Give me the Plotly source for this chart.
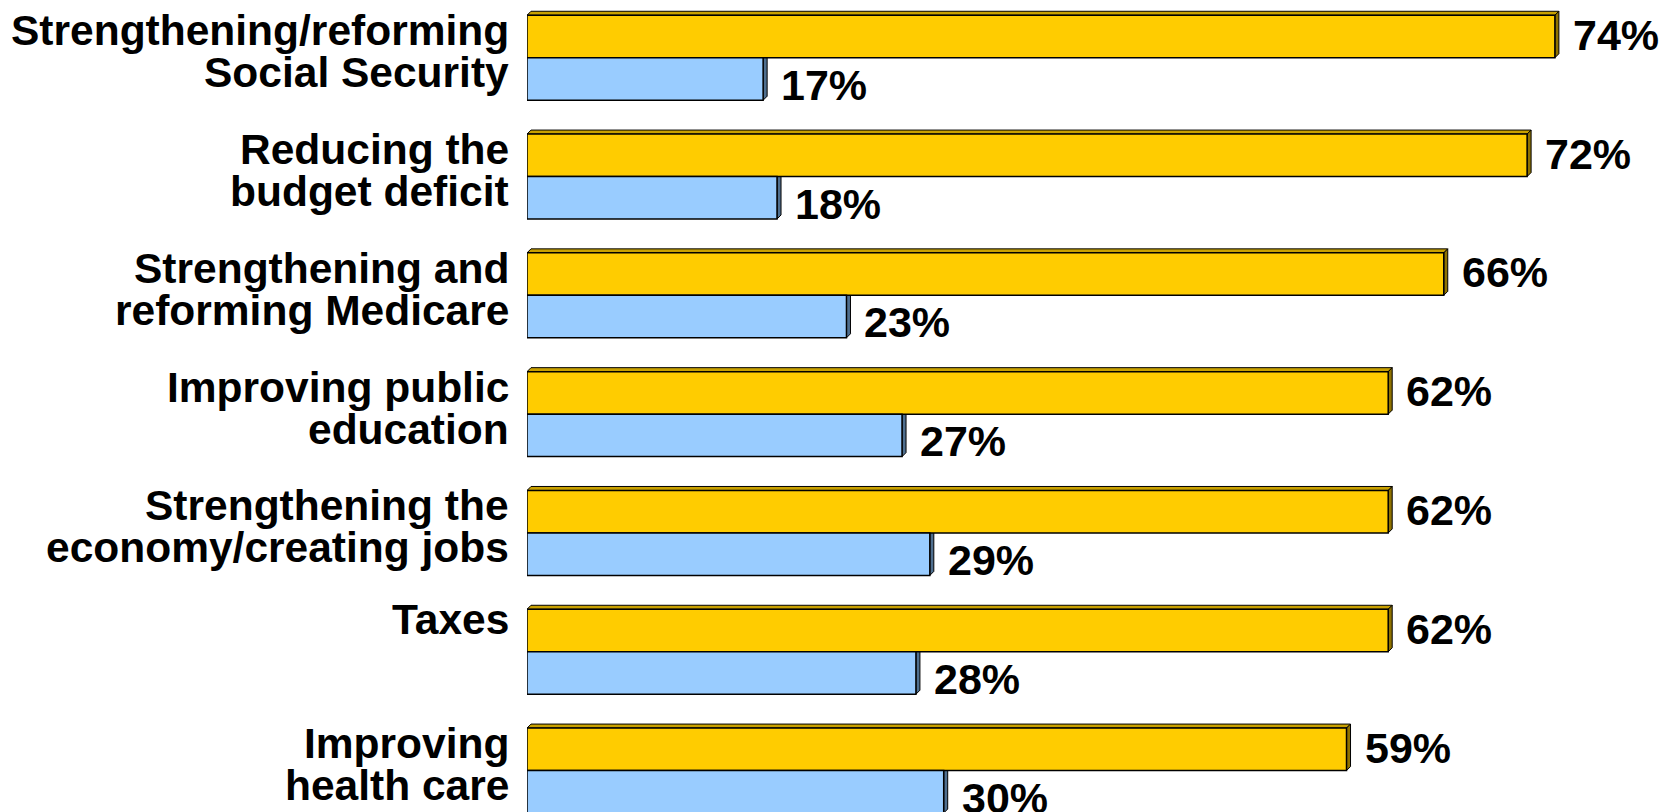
import plotly.graph_objects as go

# Survey items, top to bottom, each split into two lines of text
label_line1 = [
    "Strengthening/reforming",
    "Reducing the",
    "Strengthening and",
    "Improving public",
    "Strengthening the",
    "Taxes",
    "Improving",
]
label_line2 = [
    "Social Security",
    "budget deficit",
    "reforming Medicare",
    "education",
    "economy/creating jobs",
    "",
    "health care",
]
first_values = [74, 72, 66, 62, 62, 62, 59]    # gold bars
second_values = [17, 18, 23, 27, 29, 28, 30]   # light blue bars

# ---- layout constants ----
W, H = 1661, 812
LEFT = 527
X_MAX = 81.64
Y_RANGE = [6.349, -0.486]          # reversed: first item at the top
BAR_W = 0.3575                     # each bar's thickness in category units
GOLD, GOLD_TOP, GOLD_SIDE = "#FFCC00", "#C9A100", "#8F7200"
BLUE, BLUE_SIDE = "#99CCFF", "#4F6F8F"
LABEL_FONT = dict(family="Liberation Sans, Arial, sans-serif", size=42.5, color="black", weight="bold")
VALUE_FONT = dict(family="Liberation Sans, Arial, sans-serif", size=43, color="black", weight="bold")

px_x = (W - LEFT) / X_MAX                      # pixels per percentage point
px_y = H / (Y_RANGE[0] - Y_RANGE[1])           # pixels per category
DEPTH = 4                                      # extrusion depth in pixels
dx, dy = DEPTH / px_x, DEPTH / px_y

pos = list(range(len(first_values)))

fig = go.Figure()
fig.add_trace(go.Bar(
    y=pos, x=first_values, orientation="h", width=BAR_W, offset=-BAR_W,
    marker=dict(color=GOLD, line=dict(color="black", width=1.5)),
    hoverinfo="x",
))
fig.add_trace(go.Bar(
    y=pos, x=second_values, orientation="h", width=BAR_W, offset=0,
    marker=dict(color=BLUE, line=dict(color="black", width=1.5)),
    hoverinfo="x",
))

shapes = []
annotations = []
for i, (a, b) in enumerate(zip(first_values, second_values)):
    top, mid, bot = i - BAR_W, i, i + BAR_W
    # top face of the gold bar
    shapes.append(dict(
        type="path", layer="below", xref="x", yref="y",
        path=f"M 0,{top} L {a},{top} L {a + dx},{top - dy} L {dx},{top - dy} Z",
        fillcolor=GOLD_TOP, line=dict(color="black", width=1),
    ))
    # right-hand faces
    shapes.append(dict(
        type="path", layer="below", xref="x", yref="y",
        path=f"M {a},{top} L {a + dx},{top - dy} L {a + dx},{mid - dy} L {a},{mid} Z",
        fillcolor=GOLD_SIDE, line=dict(color="black", width=1),
    ))
    shapes.append(dict(
        type="path", layer="below", xref="x", yref="y",
        path=f"M {b},{mid} L {b + dx},{mid - dy} L {b + dx},{bot - dy} L {b},{bot} Z",
        fillcolor=BLUE_SIDE, line=dict(color="black", width=1),
    ))

    # value labels
    annotations.append(dict(
        x=a, y=i, xref="x", yref="y", text=f"{a}%", showarrow=False,
        xanchor="left", yanchor="middle", xshift=16, yshift=23, font=VALUE_FONT,
    ))
    annotations.append(dict(
        x=b, y=i, xref="x", yref="y", text=f"{b}%", showarrow=False,
        xanchor="left", yanchor="middle", xshift=16, yshift=-27, font=VALUE_FONT,
    ))

    # item labels, right-aligned against the bars
    if label_line2[i]:
        lines = [(label_line1[i], 27), (label_line2[i], -15)]
    else:
        lines = [(label_line1[i], 32)]
    for txt, shift in lines:
        annotations.append(dict(
            x=0, y=i, xref="paper", yref="y", text=txt, showarrow=False,
            xanchor="right", yanchor="middle", xshift=-16, yshift=shift, font=LABEL_FONT,
        ))

fig.update_layout(
    width=W, height=H,
    margin=dict(l=LEFT, r=0, t=0, b=0, pad=0),
    paper_bgcolor="white", plot_bgcolor="rgba(0,0,0,0)",
    showlegend=False, barmode="overlay",
    xaxis=dict(range=[0, X_MAX], visible=False, fixedrange=True),
    yaxis=dict(range=Y_RANGE, visible=False, fixedrange=True),
    shapes=shapes, annotations=annotations,
)

fig.write_html("out.html")
